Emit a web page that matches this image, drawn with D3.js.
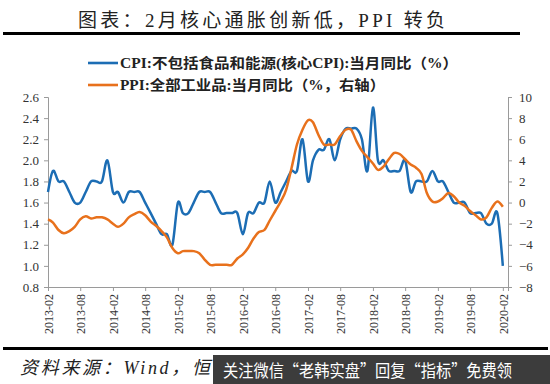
<!DOCTYPE html>
<html>
<head>
<meta charset="utf-8">
<script src="https://cdn.jsdelivr.net/npm/d3@7"></script>
<style>
  body { margin: 0; background: #fff; }
  svg text { font-family: "Liberation Serif", "Noto Sans CJK SC", serif; }
</style>
</head>
<body>
<svg id="chart" width="550" height="384"></svg>
<script>
// monthly data, 2013-02 .. 2020-02
var START = new Date(2013, 1, 1)
var END = new Date(2020, 2, 1)

var coreCpi = [
  1.7, 1.9, 1.8, 1.8, 1.7, 1.6, 1.6, 1.7, 1.8, 1.8,
  1.8, 2.0, 1.7, 1.7, 1.6, 1.7, 1.7, 1.7, 1.6, 1.5,
  1.4, 1.3, 1.3, 1.2, 1.6, 1.5, 1.5, 1.6, 1.7, 1.7,
  1.7, 1.6, 1.5, 1.5, 1.5, 1.5, 1.3, 1.5, 1.5, 1.6,
  1.6, 1.8, 1.6, 1.7, 1.8, 1.9, 1.9, 2.2, 1.8, 2.0,
  2.1, 2.1, 2.2, 2.0, 2.2, 2.3, 2.3, 2.3, 2.2, 1.9,
  2.5, 2.0, 2.0, 1.9, 1.9, 1.9, 2.0, 1.7, 1.8, 1.8,
  1.8, 1.9, 1.8, 1.8, 1.7, 1.6, 1.6, 1.6, 1.5, 1.5,
  1.5, 1.4, 1.4, 1.5, 1.0
]

var ppi = [
  -1.6, -1.9, -2.6, -2.9, -2.7, -2.3, -1.6, -1.3, -1.5, -1.4, -1.4,
  -1.6, -2.0, -2.3, -2.0, -1.4, -1.1, -0.9, -1.2, -1.8, -2.2, -2.7, -3.3,
  -4.3, -4.8, -4.6, -4.6, -4.6, -4.8, -5.4, -5.9, -5.9, -5.9, -5.9, -5.9,
  -5.3, -4.9, -4.3, -3.4, -2.8, -2.6, -1.7, -0.8, 0.1, 1.2, 3.3, 5.5,
  6.9, 7.8, 7.6, 6.4, 5.5, 5.5, 5.5, 6.3, 6.9, 6.9, 5.8, 4.9,
  4.3, 3.7, 3.1, 3.4, 4.1, 4.7, 4.6, 4.1, 3.6, 3.3, 2.7, 0.9,
  0.1, 0.1, 0.4, 0.9, 0.6, 0.0, -0.3, -0.8, -1.2, -1.6, -1.4, -0.5,
  0.1, -0.4
]

var xTickLabels = ["2013-02", "2013-08", "2014-02", "2014-08", "2015-02", "2015-08",
  "2016-02", "2016-08", "2017-02", "2017-08", "2018-02", "2018-08", "2019-02",
  "2019-08", "2020-02"]
var leftTicks = [0.8, 1.0, 1.2, 1.4, 1.6, 1.8, 2.0, 2.2, 2.4, 2.6]
var rightTicks = [-8, -6, -4, -2, 0, 2, 4, 6, 8, 10]

var TITLE = "图表：2月核心通胀创新低，PPI 转负"
var LEGEND_CPI = "CPI:不包括食品和能源(核心CPI):当月同比（%）"
var LEGEND_PPI = "PPI:全部工业品:当月同比（%，右轴）"
var SOURCE = "资料来源：Wind，恒"
var BANNER = "关注微信“老韩实盘”回复“指标”免费领"

var BLUE = "#1c6db4"
var ORANGE = "#e8711c"
var AXIS = "#9a9a9a"

var margin = { top: 97, right: 42, bottom: 97, left: 48 },
    W = 550, H = 384,
    plotRight = W - margin.right,
    plotBottom = H - margin.bottom

var svg = d3.select("#chart")
var parse = d3.timeParse("%Y-%m")
var months = d3.timeMonth.range(START, END)

var x = d3.scaleTime()
    .domain([START, END])
    .range([margin.left, plotRight])

var yL = d3.scaleLinear()
    .domain([0.8, 2.6])
    .range([plotBottom, margin.top])

var yR = d3.scaleLinear()
    .domain([-8, 10])
    .range([plotBottom, margin.top])

// title + rules
svg.append("text")
    .attr("x", 78)
    .attr("y", 27)
    .attr("textLength", 367)
    .attr("lengthAdjust", "spacing")
    .style("font-size", "19px")
    .attr("fill", "#222")
    .text(TITLE)

svg.append("rect")
    .attr("x", 3).attr("y", 32)
    .attr("width", 517).attr("height", 3)
    .attr("fill", "#000")

svg.append("rect")
    .attr("x", 3).attr("y", 347)
    .attr("width", 545).attr("height", 3)
    .attr("fill", "#000")

// axes
var leftAxis = svg.append("g")
    .attr("transform", `translate(${margin.left},0)`)
    .call(d3.axisLeft(yL).tickValues(leftTicks).tickFormat(d3.format(".1f")).tickSize(4))

var rightAxis = svg.append("g")
    .attr("transform", `translate(${plotRight},0)`)
    .call(d3.axisRight(yR).tickValues(rightTicks).tickFormat(d3.format("d")).tickSize(4))

var bottomAxis = svg.append("g")
    .attr("transform", `translate(0,${plotBottom})`)
    .call(d3.axisBottom(x).tickValues(xTickLabels.map(parse)).tickFormat(d3.timeFormat("%Y-%m")).tickSize(4))

bottomAxis.selectAll("text")
    .attr("transform", "rotate(-90)")
    .attr("text-anchor", "end")
    .attr("x", -7)
    .attr("y", 0)
    .attr("dy", "0.35em")

;[leftAxis, rightAxis, bottomAxis].forEach(g => {
    g.select(".domain").attr("stroke", AXIS)
    g.selectAll(".tick line").attr("stroke", AXIS)
    g.selectAll("text")
        .attr("fill", "#333")
        .style("font-size", "13px")
        .style("font-family", "Liberation Serif")
})
bottomAxis.selectAll("text").style("font-size", "12px")
leftAxis.selectAll("text").attr("x", -9)
rightAxis.selectAll("text").attr("x", 11)

// lines
var lineL = d3.line()
    .x((d, i) => x(months[i]))
    .y(d => yL(d))
    .curve(d3.curveCatmullRom.alpha(0))

var lineR = d3.line()
    .x((d, i) => x(months[i]))
    .y(d => yR(d))
    .curve(d3.curveCatmullRom.alpha(0))

svg.append("path")
    .datum(coreCpi)
    .attr("fill", "none")
    .attr("stroke", BLUE)
    .attr("stroke-width", 2.5)
    .attr("d", lineL)

svg.append("path")
    .datum(ppi)
    .attr("fill", "none")
    .attr("stroke", ORANGE)
    .attr("stroke-width", 2.5)
    .attr("d", lineR)

// legend
var legendItems = [
    { label: LEGEND_CPI, color: BLUE, y: 63, len: 338 },
    { label: LEGEND_PPI, color: ORANGE, y: 85, len: 265 }
]

legendItems.forEach(d => {
    svg.append("line")
        .attr("x1", 88).attr("x2", 118)
        .attr("y1", d.y).attr("y2", d.y)
        .attr("stroke", d.color)
        .attr("stroke-width", 2.6)
    svg.append("text")
        .attr("x", 120)
        .attr("y", d.y + 5)
        .attr("textLength", d.len)
        .attr("lengthAdjust", "spacingAndGlyphs")
        .style("font-size", "14px")
        .style("font-weight", "bold")
        .attr("fill", "#222")
        .text(d.label)
})

// source + overlay banner
svg.append("text")
    .attr("x", 20)
    .attr("y", 374)
    .attr("textLength", 190)
    .attr("lengthAdjust", "spacing")
    .style("font-size", "18px")
    .style("font-style", "italic")
    .attr("fill", "#222")
    .text(SOURCE)

svg.append("rect")
    .attr("x", 213).attr("y", 355)
    .attr("width", 337).attr("height", 29)
    .attr("fill", "#2b2b2b")
    .attr("fill-opacity", 0.92)

svg.append("text")
    .attr("x", 223)
    .attr("y", 377)
    .attr("textLength", 289)
    .attr("lengthAdjust", "spacingAndGlyphs")
    .style("font-family", "Noto Sans CJK SC")
    .style("font-size", "17px")
    .attr("fill", "#fff")
    .text(BANNER)
</script>
</body>
</html>
